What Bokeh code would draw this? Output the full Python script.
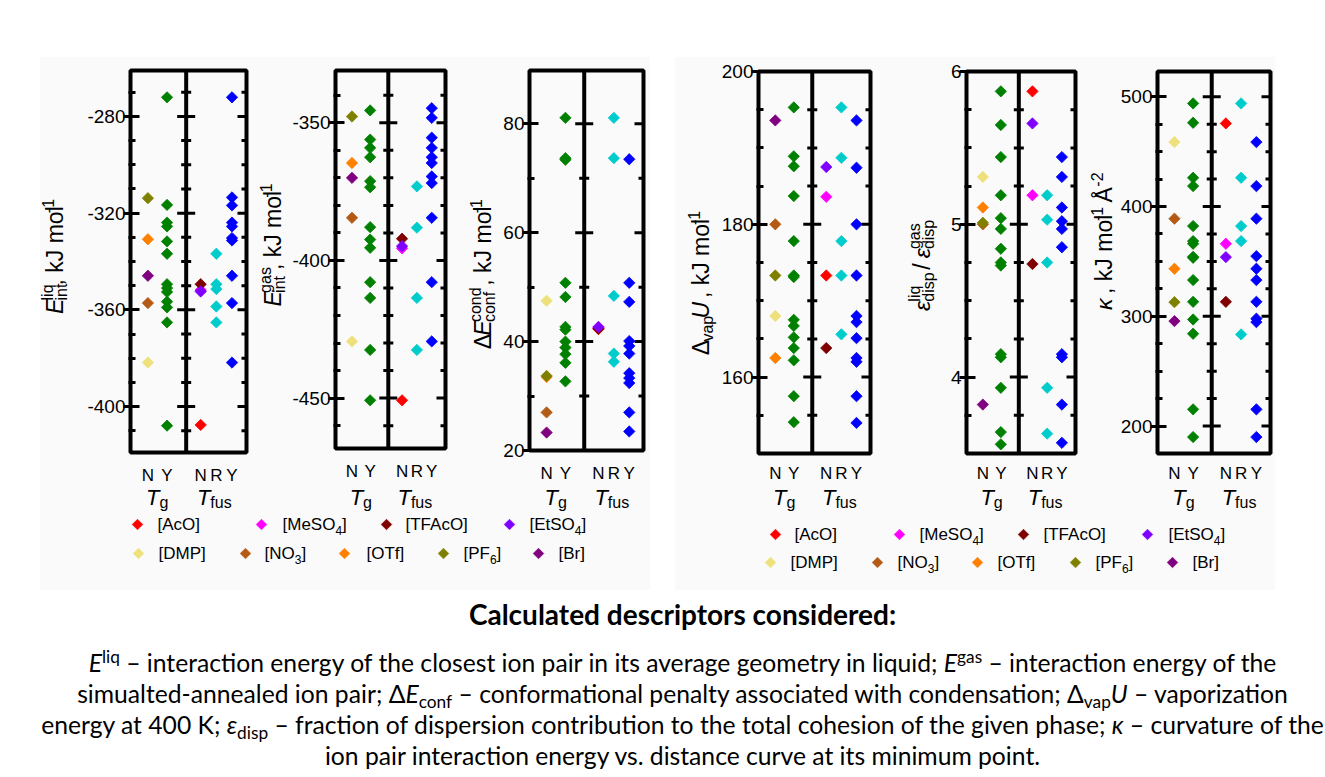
import numpy as np
from bokeh.plotting import figure
from bokeh.models import Range1d, FixedTicker, Span, Label, Div, Spacer
from bokeh.layouts import row, column
from bokeh.embed import file_html
from bokeh.resources import INLINE

# ---------------- data ----------------
anions = ["[AcO]", "[MeSO_4]", "[TFAcO]", "[EtSO_4]", "[DMP]", "[NO_3]", "[OTf]", "[PF_6]", "[Br]"]
anion_colors = ["#ff0000", "#ff00ff", "#800000", "#8000ff", "#eee07a", "#b45a14", "#ff8000", "#808000", "#800080"]
anion_class = ["Tfus N", "Tfus N", "Tfus N", "Tfus N", "Tg N", "Tg N", "Tg N", "Tg N", "Tg N"]
class_colors = {"Tg Y": "#008000", "Tfus R": "#00cccc", "Tfus Y": "#0000ff"}
x_tick_labels = ["N", "Y", "N", "R", "Y"]

# E_int^liq (kJ/mol)
eliq_anion = [-407.6, -351.8, -349.4, -352.4, -381.8, -357.2, -330.8, -313.8, -345.9]
eliq_tg_y = [-272.1, -316.6, -323.9, -325.5, -331.7, -336.8, -349.4, -351.0, -352.6, -356.6, -359.0, -365.2, -407.9]
eliq_tfus_r = [-336.8, -349.4, -351.4, -358.6, -365.2]
eliq_tfus_y = [-272.1, -313.5, -316.8, -323.9, -325.5, -330.3, -331.3, -345.9, -357.2, -381.8]

# E_int^gas (kJ/mol)
egas_anion = [-450.8, -395.6, -392.1, -394.8, -429.4, -384.5, -364.6, -347.7, -370.0]
egas_tg_y = [-345.5, -356.1, -359.1, -362.5, -371.2, -373.4, -387.9, -392.4, -395.4, -407.9, -413.6, -432.5, -450.8]
egas_tfus_r = [-373.1, -388.1, -413.6, -432.5]
egas_tfus_y = [-344.7, -348.2, -355.4, -359.1, -362.5, -364.6, -369.5, -371.9, -384.5, -407.9, -429.4]

# Delta E_conf^cond (kJ/mol)
dconf_anion = [42.3, 42.6, 42.4, 42.7, 47.5, 27.0, 33.5, 33.7, 23.3]
dconf_tg_y = [81.1, 73.7, 73.4, 50.8, 48.2, 42.7, 42.2, 40.0, 38.9, 37.7, 36.1, 32.7]
dconf_tfus_r = [81.1, 73.7, 48.4, 37.8, 36.3]
dconf_tfus_y = [73.5, 50.8, 47.3, 40.1, 39.2, 37.8, 34.2, 33.3, 32.4, 27.0, 23.5]

# Delta_vap U (kJ/mol)
dvap_anion = [173.3, 183.6, 163.8, 187.5, 168.0, 180.0, 162.5, 173.3, 193.6]
dvap_tg_y = [195.3, 188.9, 187.6, 183.7, 177.8, 173.3, 173.1, 167.5, 166.7, 165.2, 163.8, 162.2, 157.5, 154.1]
dvap_tfus_r = [195.3, 188.7, 177.8, 173.3, 165.6]
dvap_tfus_y = [193.6, 187.4, 180.0, 173.3, 168.0, 167.2, 165.1, 162.5, 162.0, 157.5, 154.0]

# eps_disp^liq / eps_disp^gas
eps_anion = [5.87, 5.19, 4.74, 5.66, 5.31, 5.00, 5.11, 5.01, 3.82]
eps_tg_y = [5.87, 5.65, 5.44, 5.19, 5.04, 4.97, 4.84, 4.75, 4.73, 4.15, 4.13, 3.93, 3.64, 3.56]
eps_tfus_r = [5.19, 5.03, 4.75, 3.93, 3.63]
eps_tfus_y = [5.44, 5.31, 5.11, 5.02, 4.97, 4.85, 4.15, 4.13, 3.82, 3.57]

# kappa (kJ/mol/A^2)
kap_anion = [475.7, 366.1, 313.2, 353.9, 458.7, 388.9, 343.3, 312.9, 295.6]
kap_tg_y = [493.9, 476.3, 426.2, 418.6, 382.2, 368.5, 366.1, 354.2, 353.3, 333.0, 313.2, 297.1, 284.1, 215.2, 190.0]
kap_tfus_r = [493.9, 426.2, 382.2, 368.5, 283.5]
kap_tfus_y = [458.7, 418.6, 388.9, 354.8, 343.3, 333.0, 313.2, 297.8, 294.7, 215.2, 190.0]

# ---------------- style / layout ----------------
FONT = "Liberation Sans"
BG = "#fafafa"
XPOS = {"Tg N": 30, "Tg Y": 63, "Tfus N": 121, "Tfus R": 148, "Tfus Y": 175}
XT = [30, 63, 121, 148, 175]
XDIV = 96
TG_C, TF_C = 46.5, 148
TOP = 57          # page y where the two grey blocks start
ROW_H = 427       # height of the row of panels
BOT_H = 105       # height of the strip with T labels and legend
ROW_BOTTOM = TOP + ROW_H
MID = 0.3465      # distance (em) from text-box middle down to the baseline

CW = {'E': 0.667, 'i': 0.222, 'n': 0.556, 't': 0.278, 'l': 0.222, 'q': 0.556, ',': 0.278, ' ': 0.278,
      'k': 0.5, 'J': 0.5, 'm': 0.833, 'o': 0.556, '-': 0.333, '1': 0.556, '2': 0.556, '3': 0.556,
      '4': 0.556, '6': 0.556, 'g': 0.556, 'a': 0.556, 's': 0.5, 'Δ': 0.668, 'c': 0.5, 'f': 0.278,
      'd': 0.556, 'v': 0.5, 'p': 0.556, 'U': 0.722, 'ε': 0.45, 'κ': 0.5, '/': 0.278, 'Å': 0.667,
      'r': 0.333, '[': 0.278, ']': 0.278, 'A': 0.667, 'O': 0.778, 'M': 0.833, 'e': 0.556, 'S': 0.667,
      'T': 0.611, 'F': 0.611, 'D': 0.722, 'P': 0.667, 'N': 0.722, 'B': 0.667}


def tw(s, size):
    return sum(CW.get(c, 0.556) for c in s) * size


MAIN, SMALL = 23, 16
SUB_DROP, SUP_RISE = 5, 9
SUP_GAP = 2.5


def pixel_fig(W, H):
    p = figure(width=W, height=H, x_range=Range1d(0, W), y_range=Range1d(0, H),
               x_axis_location=None, y_axis_location=None, toolbar_location=None,
               output_backend="svg", min_border=0, background_fill_color=BG, border_fill_color=BG)
    p.grid.visible = False
    p.outline_line_color = None
    return p


def ylabel_fig(W, groups, base_x, center_y):
    p = pixel_fig(W, ROW_H)

    def fs(k):
        return SMALL if k in ("sub", "sup") else MAIN

    def gap(g):
        return SUP_GAP if any(k == "sup" for _, k in g) and len(g) == 1 else 0
    adv = [max(tw(t, fs(k)) for t, k in g) + gap(g) for g in groups]
    d = center_y - sum(adv) / 2
    for g, a in zip(groups, adv):
        for t, k in g:
            lead = tw(t[:len(t) - len(t.lstrip(" "))], fs(k))
            bx = base_x + (SUB_DROP if k == "sub" else (-SUP_RISE if k == "sup" else 0))
            p.add_layout(Label(x=bx - MID * fs(k), y=d + lead + gap(g), text=t.strip(" "), angle=np.pi / 2,
                               text_font=FONT, text_font_size=f"{fs(k)}px",
                               text_font_style="italic" if k == "i" else "normal",
                               text_color="black", text_align="left", text_baseline="middle"))
        d += a
    return p


def diamonds(p, x, ys, color):
    p.scatter(x=[x] * len(ys), y=ys, marker="square", size=8, angle=np.pi / 4,
              fill_color=color, line_color=color, line_width=0.8)


def build_panel(anion_vals, tg_y, tf_r, tf_y, spec):
    y0, y1 = spec["yr"]
    p = figure(frame_width=spec["fw"], frame_height=spec["fh"],
               min_border_left=spec["bl"], min_border_right=spec["br"],
               min_border_top=spec["bt"], min_border_bottom=ROW_H - spec["bt"] - spec["fh"],
               x_range=Range1d(0, 200), y_range=Range1d(y0, y1),
               toolbar_location=None, output_backend="svg",
               background_fill_color=BG, border_fill_color=BG)
    p.grid.visible = False
    p.outline_line_color = "black"
    p.outline_line_width = 4
    p.outline_line_alpha = 1

    xa = p.xaxis[0]
    xa.ticker = FixedTicker(ticks=XT)
    xa.major_label_overrides = {t: l for t, l in zip(XT, x_tick_labels)}
    xa.major_tick_line_color = None
    xa.minor_tick_line_color = None
    xa.major_tick_out = 0
    xa.major_tick_in = 0
    xa.minor_tick_out = 0
    xa.minor_tick_in = 0
    xa.axis_line_color = None
    xa.major_label_text_font = FONT
    xa.major_label_text_font_size = "17px"
    xa.major_label_text_color = "black"
    xa.major_label_standoff = spec["xs"]

    major, minor = spec["major"], spec["minor"]
    ya = p.yaxis[0]
    ya.ticker = FixedTicker(ticks=major, minor_ticks=minor)
    ya.major_label_overrides = {t: f"{t:g}" for t in major}
    ya.axis_line_color = None
    ya.major_tick_line_width = 3
    ya.major_tick_in = 9
    ya.major_tick_out = 7
    ya.minor_tick_line_width = 3
    ya.minor_tick_in = 5
    ya.minor_tick_out = 2
    ya.major_label_text_font = FONT
    ya.major_label_text_font_size = "19px"
    ya.major_label_text_color = "black"
    ya.major_label_standoff = -2

    # divider between T_g and T_fus
    p.add_layout(Span(location=XDIV, dimension="height", line_color="black", line_width=4))
    for ang in (0, np.pi):
        p.ray(x=[XDIV] * len(major), y=major, length=9, length_units="screen", angle=ang,
              line_color="black", line_width=3)
        p.ray(x=[XDIV] * len(minor), y=minor, length=5, length_units="screen", angle=ang,
              line_color="black", line_width=3)
    # right edge inward ticks
    p.ray(x=[200] * len(major), y=major, length=9, length_units="screen", angle=np.pi,
          line_color="black", line_width=3)
    p.ray(x=[200] * len(minor), y=minor, length=5, length_units="screen", angle=np.pi,
          line_color="black", line_width=3)

    diamonds(p, XPOS["Tg Y"], tg_y, class_colors["Tg Y"])
    diamonds(p, XPOS["Tfus R"], tf_r, class_colors["Tfus R"])
    diamonds(p, XPOS["Tfus Y"], tf_y, class_colors["Tfus Y"])
    for v, c, cl in zip(anion_vals, anion_colors, anion_class):
        diamonds(p, XPOS[cl], [v], c)
    return p


specs = [
    dict(fw=116, fh=382, bl=52, br=9, bt=11, yr=(-419, -261),
         major=[-400, -360, -320, -280], minor=[-410, -390, -380, -370, -350, -340, -330, -310, -300, -290, -270],
         label=[[("E", "i")], [("int", "sub"), ("liq", "sup")], [(", kJ mol", "n")], [("-1", "sup")]],
         lw=38, lbx=22, lcy=ROW_BOTTOM - 268, xs=13),
    dict(fw=110, fh=378, bl=47, br=5, bt=13, yr=(-468.3, -331),
         major=[-450, -400, -350], minor=[-460, -440, -430, -420, -410, -390, -380, -370, -360, -340],
         label=[[("E", "i")], [("int", "sub"), ("gas", "sup")], [(", kJ mol", "n")], [("-1", "sup")]],
         lw=33, lbx=25, lcy=ROW_BOTTOM - 255, xs=13),
    dict(fw=114, fh=380, bl=32, br=7, bt=13, yr=(20, 89.8),
         major=[20, 40, 60, 80], minor=[30, 50, 70],
         label=[[("Δ", "n")], [("E", "i")], [("conf", "sub"), ("cond", "sup")], [(" , kJ mol", "n")], [("-1", "sup")]],
         lw=47, lbx=40, lcy=ROW_BOTTOM - 288, xs=13),
    dict(fw=112, fh=382, bl=40, br=10, bt=14, yr=(150, 200),
         major=[160, 180, 200], minor=[155, 165, 170, 175, 185, 190, 195],
         label=[[("Δ", "n")], [("vap", "sub")], [("U", "i")], [(" , kJ mol", "n")], [("-1", "sup")]],
         lw=43, lbx=33, lcy=ROW_BOTTOM - 295, xs=10),
    dict(fw=109, fh=382, bl=26, br=10, bt=14, yr=(3.5, 6.0),
         major=[4, 5, 6], minor=[3.75, 4.25, 4.5, 4.75, 5.25, 5.5, 5.75],
         label=[[("ε", "i")], [("disp", "sub"), ("liq", "sup")], [(" / ", "n")], [("ε", "i")], [("disp", "sub"), ("gas", "sup")]],
         lw=60, lbx=49, lcy=ROW_BOTTOM - 276, xs=10),
    dict(fw=113, fh=382, bl=40, br=5, bt=14, yr=(175, 523),
         major=[200, 300, 400, 500], minor=[225, 250, 275, 325, 350, 375, 425, 450, 475],
         label=[[("κ", "i")], [(" , kJ mol", "n")], [("-1", "sup")], [(" Å", "n")], [("-2", "sup")]],
         lw=32, lbx=26, lcy=ROW_BOTTOM - 248, xs=10),
]

series = [
    (eliq_anion, eliq_tg_y, eliq_tfus_r, eliq_tfus_y),
    (egas_anion, egas_tg_y, egas_tfus_r, egas_tfus_y),
    (dconf_anion, dconf_tg_y, dconf_tfus_r, dconf_tfus_y),
    (dvap_anion, dvap_tg_y, dvap_tfus_r, dvap_tfus_y),
    (eps_anion, eps_tg_y, eps_tfus_r, eps_tfus_y),
    (kap_anion, kap_tg_y, kap_tfus_r, kap_tfus_y),
]

units = []
for s, sp in zip(series, specs):
    yl = ylabel_fig(sp["lw"], sp["label"], sp["lbx"], sp["lcy"])
    pn = build_panel(*s, sp)
    units.append((yl, pn))


def parse_name(name):
    parts = name.split("_")
    out = [(parts[0], "n")]
    for s in parts[1:]:
        out.append((s[0], "sub"))
        if len(s) > 1:
            out.append((s[1:], "n"))
    return out


def bottom_fig(W, block_specs, rows_y, mk_x, tx_x):
    p = pixel_fig(W, BOT_H)
    # T_g / T_fus labels under each panel (baseline 20 px below the strip top)
    t_base = BOT_H - 20
    left = 0
    for sp in block_specs:
        fl = left + sp["lw"] + sp["bl"]
        for cx, sub, shift in ((TG_C, "g", 2), (TF_C, "fus", -6)):
            xx = fl + cx / 200 * sp["fw"] + shift
            p.add_layout(Label(x=xx, y=t_base + MID * 22, text="T", text_font=FONT, text_font_size="22px",
                               text_font_style="italic", text_color="black",
                               text_align="right", text_baseline="middle"))
            p.add_layout(Label(x=xx, y=t_base - 3 + MID * 16, text=sub, text_font=FONT, text_font_size="16px",
                               text_color="black", text_align="left", text_baseline="middle"))
        left += sp["lw"] + sp["bl"] + sp["fw"] + sp["br"]
    # legend
    ys = [rows_y[0]] * 4 + [rows_y[1]] * 5
    p.scatter(x=mk_x, y=ys, marker="square", size=7.5, angle=np.pi / 4,
              fill_color=anion_colors, line_color=anion_colors, line_width=0.6)
    for name, x, y in zip(anions, tx_x, ys):
        cx = x
        base = y - MID * 17
        for t, k in parse_name(name):
            fs = 12 if k == "sub" else 17
            b = base - (4 if k == "sub" else 0)
            p.add_layout(Label(x=cx, y=b + MID * fs, text=t, text_font=FONT,
                               text_font_size=f"{fs}px", text_color="black",
                               text_align="left", text_baseline="middle"))
            cx += tw(t, fs)
    return p


botL = bottom_fig(610, specs[:3], [66, 37], [97, 221, 346, 469, 98, 205, 304, 403, 498],
                  [117, 242, 365, 489, 118, 224, 326, 423, 518])
botR = bottom_fig(600, specs[3:], [56, 28], [100, 224, 348, 472, 95, 202, 302, 400, 497],
                  [119, 244, 368, 493, 115, 222, 322, 420, 517])

left_block = column(row(*[f for u in units[:3] for f in u]), botL, styles={"background-color": BG})
right_block = column(row(*[f for u in units[3:] for f in u]), botR, styles={"background-color": BG})

top_row = row(Spacer(width=40, height=ROW_H + BOT_H), left_block,
              Spacer(width=25, height=ROW_H + BOT_H), right_block)


def sup(t):
    return f'<span style="font-size:0.7em;vertical-align:0.5em;line-height:0">{t}</span>'


def sub(t):
    return f'<span style="font-size:0.7em;vertical-align:-0.3em;line-height:0">{t}</span>'


title_html = ('<div style="width:1325px;box-sizing:border-box;padding-left:40px;text-align:center;'
              'font-family:Lato,sans-serif;font-weight:bold;'
              'font-size:28px;line-height:34px;padding-top:7px;color:#000;white-space:nowrap;">'
              'Calculated descriptors considered:</div>')

lines = [
    f"<i>E</i>{sup('liq')} – interaction energy of the closest ion pair in its average geometry in liquid; "
    f"<i>E</i>{sup('gas')} – interaction energy of the",
    f"simualted-annealed ion pair; Δ<i>E</i>{sub('conf')} – conformational penalty associated with condensation; "
    f"Δ{sub('vap')}<i>U</i> – vaporization",
    f"energy at 400 K; <i>ε</i>{sub('disp')} – fraction of dispersion contribution to the total cohesion of the given phase; "
    f"<i>κ</i> – curvature of the",
    "ion pair interaction energy vs. distance curve at its minimum point.",
]
para_html = ('<div style="width:1325px;box-sizing:border-box;padding-left:40px;text-align:center;'
             'font-family:Lato,sans-serif;font-size:24.7px;'
             'line-height:31px;padding-top:6px;color:#000;white-space:nowrap;">' + "<br>".join(lines) + "</div>")

title_div = Div(text=title_html, width=1325, height=51, margin=0)
para_div = Div(text=para_html, width=1325, height=124, margin=0)

layout = column(Spacer(width=1325, height=TOP), top_row, title_div, para_div)

open("out.html", "w").write(file_html(layout, INLINE))
